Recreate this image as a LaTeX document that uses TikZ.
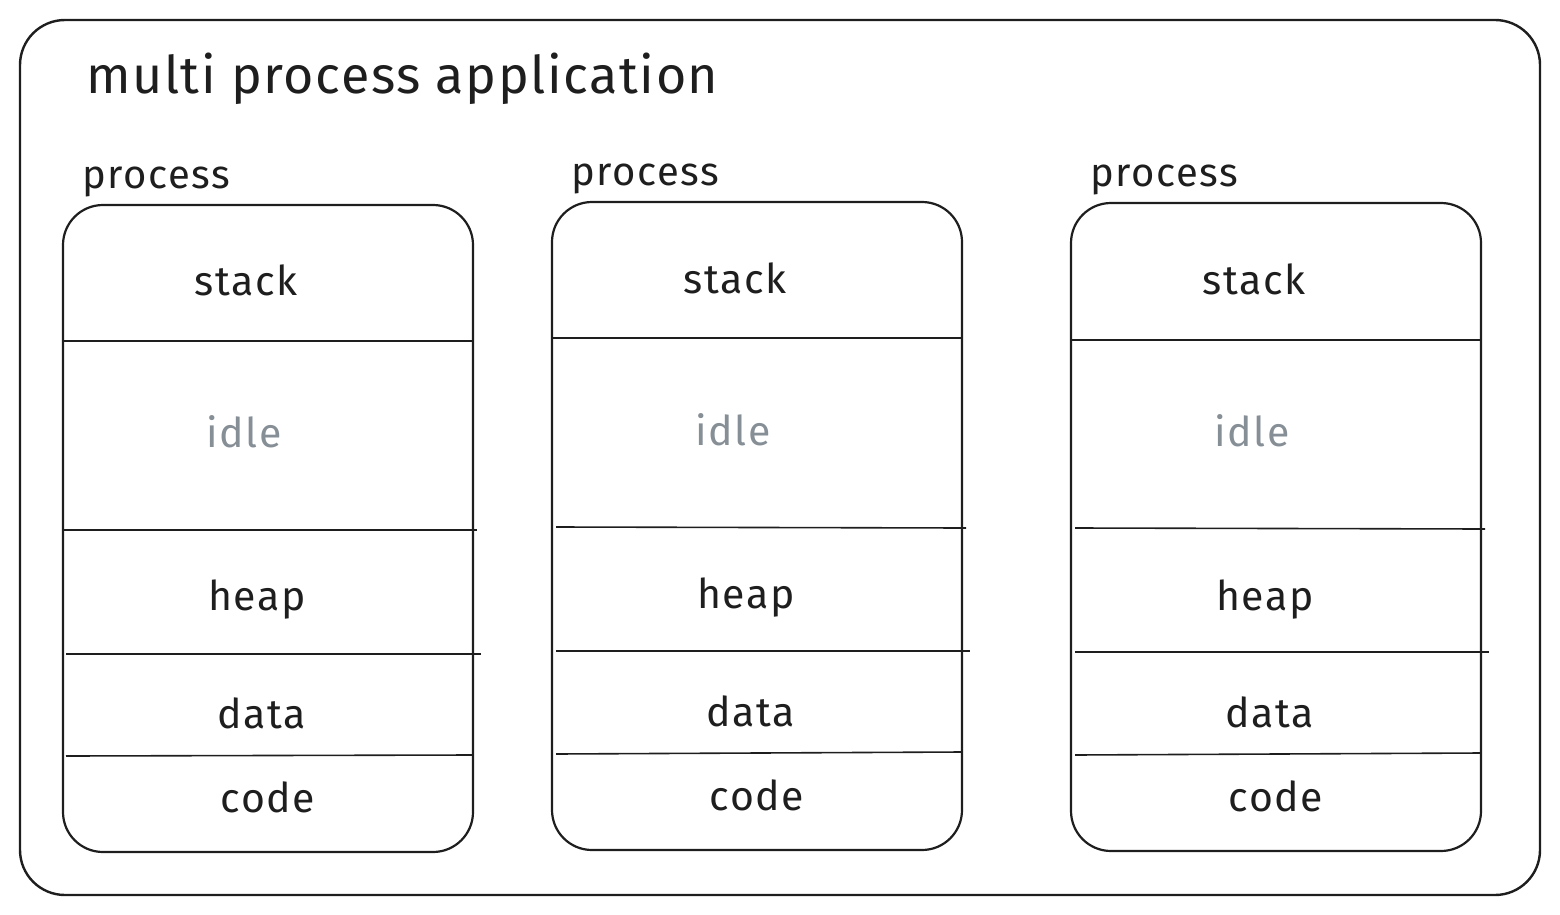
\documentclass[tikz,border=0pt]{standalone}
\usepackage{fontspec}
\setmainfont{Fira Sans}
\usepackage{tikz}
\definecolor{idlegray}{HTML}{868E96}
\definecolor{inkblack}{HTML}{1E1E1E}

\begin{document}
\begin{tikzpicture}[x=1pt,y=-1pt]
        \tikzstyle{every node}=[inner sep=0pt, text=inkblack];
        \tikzstyle{appbox}=[draw=inkblack, line width=2.4pt, rounded corners=45pt];
        \tikzstyle{procbox}=[draw=inkblack, line width=2.2pt, rounded corners=40pt];
        \tikzstyle{divider}=[draw=inkblack, line width=1.6pt];
        \tikzstyle{seg}=[font=\fontsize{41}{45}\selectfont\addfontfeatures{LetterSpace=4}];
        \tikzstyle{idleseg}=[seg, text=idlegray];
        \tikzstyle{caption}=[font=\fontsize{40}{44}\selectfont\addfontfeatures{LetterSpace=4}, anchor=west];
        \useasboundingbox (0,0) rectangle (1560,915);
        % application frame
        \draw[appbox] (20,20) rectangle (1540,895);
        \node[anchor=west, font=\fontsize{52}{56}\selectfont\addfontfeatures{LetterSpace=3}] (title) at (86,79) {multi process application};
        % first process
        \node[caption] (procA) at (82,182) {process};
        \draw[procbox] (63,205) rectangle (473,852);
        \draw[divider] (63,341) -- (473,341);
        \draw[divider] (63,530) -- (477,530);
        \draw[divider] (66,654) -- (481,654);
        \draw[divider] (66,756) -- (473,755);
        \node[seg] (stackA) at (246,280) {stack};
        \node[idleseg] (idleA) at (244,432) {idle};
        \node[seg] (heapA) at (257,600) {heap};
        \node[seg] (dataA) at (262,713) {data};
        \node[seg] (codeA) at (268,797) {code};
        % second process
        \node[caption] (procB) at (571,179) {process};
        \draw[procbox] (552,202) rectangle (962,850);
        \draw[divider] (552,338) -- (962,338);
        \draw[divider] (556,527) -- (966,528);
        \draw[divider] (556,651) -- (970,651);
        \draw[divider] (556,754) -- (962,752);
        \node[seg] (stackB) at (735,278) {stack};
        \node[idleseg] (idleB) at (733,430) {idle};
        \node[seg] (heapB) at (746,598) {heap};
        \node[seg] (dataB) at (751,711) {data};
        \node[seg] (codeB) at (757,795) {code};
        % third process
        \node[caption] (procC) at (1090,180) {process};
        \draw[procbox] (1071,203) rectangle (1481,851);
        \draw[divider] (1071,340) -- (1481,340);
        \draw[divider] (1075,528) -- (1485,529);
        \draw[divider] (1075,652) -- (1489,652);
        \draw[divider] (1075,755) -- (1481,753);
        \node[seg] (stackC) at (1254,279) {stack};
        \node[idleseg] (idleC) at (1252,431) {idle};
        \node[seg] (heapC) at (1265,600) {heap};
        \node[seg] (dataC) at (1270,712) {data};
        \node[seg] (codeC) at (1276,796) {code};
    \end{tikzpicture}
\end{document}
